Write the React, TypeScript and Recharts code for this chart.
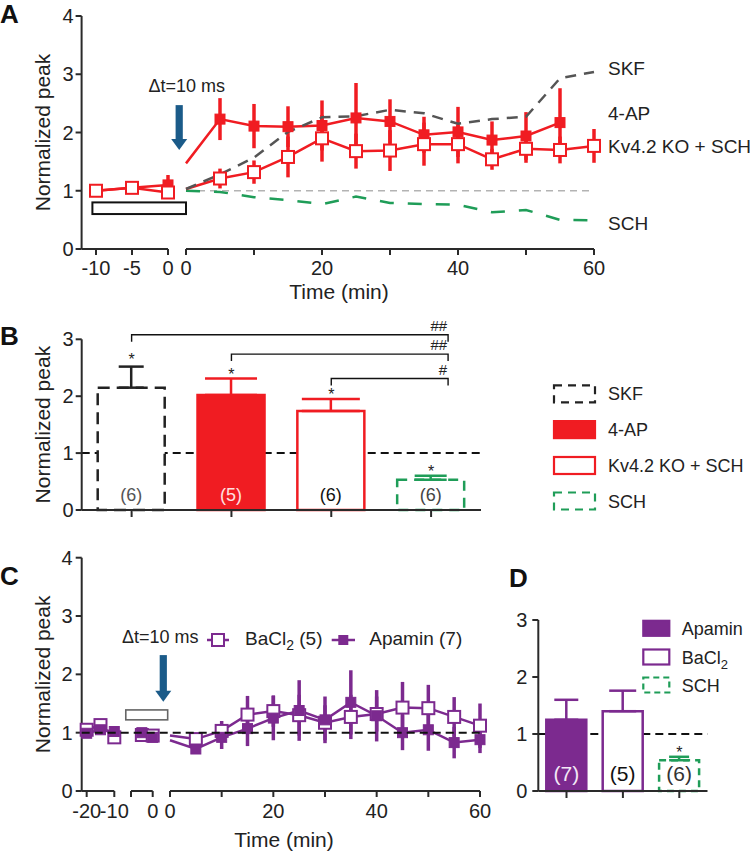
import {
  ComposedChart,
  BarChart,
  Bar,
  Line,
  XAxis,
  YAxis,
  ErrorBar,
  ReferenceLine,
  Cell,
  LabelList,
} from 'recharts';

const FONT = '"Liberation Sans", Arial, Helvetica, sans-serif';
const W = 750;
const H = 853;
const XH = 30; // x axis band height
const YW = 50; // y axis band width

const RED = '#f01c22';
const PURPLE = '#7c2a8f';
const GREEN = '#1f9d58';
const SKF_GREY = '#555555';
const BLUE = '#1b5b89';
const INK = '#222222';
const AXIS = { stroke: '#2a2a2a', strokeWidth: 2 };

// ---------- A: time course (normalized peak) ----------
const A_PRE_T = [-10, -5, 0];
const A_PRE_4AP = [1.0, 1.05, 1.1];
const A_PRE_4AP_SEM = [0.04, 0.05, 0.17];
const A_PRE_KO = [1.0, 1.05, 0.97];
const A_PRE_KO_SEM = [0.04, 0.05, 0.08];

const A_POST_T = [0, 5, 10, 15, 20, 25, 30, 35, 40, 45, 50, 55, 60];
const A_POST_4AP = [1.47, 2.23, 2.11, 2.1, 2.12, 2.25, 2.19, 1.96, 2.01, 1.87, 1.94, 2.17];
const A_POST_4AP_SEM = [0, 0.36, 0.38, 0.35, 0.43, 0.6, 0.38, 0.31, 0.43, 0.32, 0.41, 0.59];
const A_POST_KO = [1.03, 1.21, 1.32, 1.58, 1.9, 1.68, 1.69, 1.8, 1.8, 1.54, 1.72, 1.7, 1.77];
const A_POST_KO_SEM = [0, 0.17, 0.2, 0.35, 0.4, 0.3, 0.35, 0.37, 0.33, 0.18, 0.24, 0.23, 0.29];
const A_POST_SKF = [1.03, 1.28, 1.57, 2.01, 2.26, 2.28, 2.39, 2.33, 2.15, 2.23, 2.27, 2.93, 3.04];
const A_POST_SCH = [1.0, 0.98, 0.89, 0.84, 0.77, 0.9, 0.79, 0.77, 0.76, 0.63, 0.67, 0.5, 0.49];
const A_SERIES_NAMES = ['SKF', '4-AP', 'Kv4.2 KO + SCH', 'SCH'];

// ---------- B: summary bars ----------
const B_GROUPS = ['SKF', '4-AP', 'Kv4.2 KO + SCH', 'SCH'];
const B_MEAN = [2.15, 2.02, 1.74, 0.53];
const B_SEM = [0.37, 0.29, 0.21, 0.07];
const B_N = [6, 5, 6, 6];
const B_VS_SCH = ['##', '##', '#']; // SKF, 4-AP, KO each compared with SCH

// ---------- C: BaCl2 / apamin time course ----------
const C_PRE1_T = [-20, -15, -10];
const C_PRE2_T = [-5, 0];
const C_POST_T = [0, 5, 10, 15, 20, 25, 30, 35, 40, 45, 50, 55, 60];
const C_BACL2_PRE1 = [1.05, 1.13, 0.92];
const C_BACL2_PRE1_SEM = [0.05, 0.06, 0.07];
const C_APAMIN_PRE1 = [0.99, 1.05, 1.02];
const C_APAMIN_PRE1_SEM = [0.04, 0.05, 0.04];
const C_BACL2_PRE2 = [0.96, 0.95];
const C_BACL2_PRE2_SEM = [0.07, 0.06];
const C_APAMIN_PRE2 = [1.0, 0.92];
const C_APAMIN_PRE2_SEM = [0.06, 0.06];
const C_BACL2_POST = [0.95, 0.89, 1.03, 1.31, 1.37, 1.3, 1.17, 1.27, 1.32, 1.43, 1.42, 1.27, 1.12];
const C_BACL2_POST_SEM = [0, 0.1, 0.17, 0.32, 0.27, 0.35, 0.3, 0.38, 0.3, 0.44, 0.4, 0.34, 0.38];
const C_APAMIN_POST = [0.87, 0.72, 0.92, 1.07, 1.25, 1.38, 1.22, 1.52, 1.29, 1.0, 1.05, 0.83, 0.88];
const C_APAMIN_POST_SEM = [0, 0.07, 0.2, 0.3, 0.38, 0.52, 0.4, 0.55, 0.44, 0.3, 0.36, 0.27, 0.23];

// ---------- D: summary bars ----------
const D_GROUPS = ['Apamin', 'BaCl2', 'SCH'];
const D_MEAN = [1.25, 1.4, 0.54];
const D_SEM = [0.35, 0.36, 0.06];
const D_N = [7, 5, 6];

// bar styling (kept apart from the values)
const B_FILL = ['#ffffff', RED, '#ffffff', '#ffffff'];
const B_STROKE = ['#222222', RED, RED, GREEN];
const B_DASH = ['12 7', undefined, undefined, '10 7'];
const B_CAP = [12.5, 26, 29, 16];
const B_COUNT_FILL = ['#555555', '#ffe0e0', '#111111', '#444444'];
const D_FILL = [PURPLE, '#ffffff', '#ffffff'];
const D_STROKE = [PURPLE, PURPLE, GREEN];
const D_DASH = [undefined, undefined, '7 5'];
const D_CAP = [12, 13.5, 10];
const D_COUNT_FILL = ['#f3e8f6', '#111111', '#333333'];

// ---------- page frames (plot areas, in page pixels) ----------
const FA = { top: 16, bottom: 249 };
const A_PRE = { x0: 81.6, x1: 168, d: [-12, 0] };
const A_POST = { x0: 186, x1: 594, d: [0, 60] };
const FB = { x0: 81.7, x1: 481, top: 339.3, bottom: 510 };
const FC = { top: 557.7, bottom: 791 };
const C_SEG1 = { x0: 81.7, x1: 114.3, d: [-21.8, -10] };
const C_SEG2 = { x0: 131, x1: 152.7, d: [-10, 0] };
const C_POST = { x0: 170, x1: 480, d: [0, 60] };
const FD = { x0: 538.3, x1: 707.5, top: 620, bottom: 791 };

const lin = (d0: number, d1: number, r0: number, r1: number) => (v: number) =>
  r0 + ((v - d0) / (d1 - d0)) * (r1 - r0);

type Pt = { t: number; v: number; e?: number };
const points = (t: number[], v: number[], e?: number[]): Pt[] =>
  v.map((val, i) => ({ t: t[i], v: val, e: e ? e[i] : undefined }));

function squareDot(color: string, size: number, filled: boolean, skipFirst = false) {
  return (p: any) => {
    const { cx, cy, index } = p;
    if (cx == null || cy == null || (skipFirst && index === 0)) return <g key={`d${index}`} />;
    return (
      <rect
        key={`d${index}`}
        x={cx - size / 2}
        y={cy - size / 2}
        width={size}
        height={size}
        fill={filled ? color : '#ffffff'}
        stroke={color}
        strokeWidth={filled ? 1 : 2}
      />
    );
  };
}

interface SegmentProps {
  x0: number;
  x1: number;
  top: number;
  bottom: number;
  xDomain: number[];
  xTicks: number[];
  xLabel: (v: number) => string;
  showY: boolean;
  yTickMargin?: number;
  xTickMargin?: number;
  children: React.ReactNode;
}

function TimeSegment({ x0, x1, top, bottom, xDomain, xTicks, xLabel, showY, yTickMargin = 2, xTickMargin = 6, children }: SegmentProps) {
  return (
    <div style={{ position: 'absolute', left: 0, top: 0 }}>
      <ComposedChart
        width={W}
        height={H}
        margin={{ top, right: W - x1, bottom: H - bottom - XH, left: x0 - (showY ? YW : 0) }}
      >
        <XAxis
          type="number"
          dataKey="t"
          domain={xDomain}
          ticks={xTicks}
          interval={0}
          tickFormatter={xLabel}
          height={XH}
          tickSize={6}
          tickMargin={xTickMargin}
          axisLine={AXIS}
          tickLine={AXIS}
          tick={{ fontSize: 20, fill: INK }}
        />
        <YAxis
          type="number"
          domain={[0, 4]}
          ticks={[0, 1, 2, 3, 4]}
          interval={0}
          hide={!showY}
          width={showY ? YW : 0}
          tickSize={6}
          tickMargin={yTickMargin}
          axisLine={AXIS}
          tickLine={AXIS}
          tick={{ fontSize: 20, fill: INK }}
        />
        {children}
      </ComposedChart>
    </div>
  );
}

const every20 = (v: number) => (v % 20 === 0 ? String(v) : '');

function countLabel(colors: string[], fontSize: number, offset: number) {
  return (p: any) => {
    const vb = p.viewBox ?? p;
    const x = Number(vb.x);
    const y = Number(vb.y);
    const w = Number(vb.width);
    const h = Number(vb.height);
    if (p.value == null || !isFinite(x) || !isFinite(h)) return null;
    return (
      <text
        key={`n${p.index}`}
        x={x + w / 2}
        y={y + h - offset}
        textAnchor="middle"
        fontSize={fontSize}
        fill={colors[p.index] ?? INK}
      >
        {p.value}
      </text>
    );
  };
}

function PanelA() {
  return (
    <>
      <TimeSegment
        x0={A_PRE.x0}
        x1={A_PRE.x1}
        top={FA.top}
        bottom={FA.bottom}
        xDomain={A_PRE.d}
        xTicks={A_PRE_T}
        xLabel={(v) => String(v)}
        showY
        yTickMargin={2}
      >
        <Line data={points(A_PRE_T, A_PRE_4AP, A_PRE_4AP_SEM)} dataKey="v" stroke={RED} strokeWidth={2.5}
          dot={squareDot(RED, 10, true)} activeDot={false} isAnimationActive={false}>
          <ErrorBar dataKey="e" width={0} stroke={RED} strokeWidth={3.5} direction="y" isAnimationActive={false} />
        </Line>
        <Line data={points(A_PRE_T, A_PRE_KO, A_PRE_KO_SEM)} dataKey="v" stroke={RED} strokeWidth={2.5}
          dot={squareDot(RED, 12, false)} activeDot={false} isAnimationActive={false}>
          <ErrorBar dataKey="e" width={0} stroke={RED} strokeWidth={3.5} direction="y" isAnimationActive={false} />
        </Line>
      </TimeSegment>
      <TimeSegment
        x0={A_POST.x0}
        x1={A_POST.x1}
        top={FA.top}
        bottom={FA.bottom}
        xDomain={A_POST.d}
        xTicks={[0, 10, 20, 30, 40, 50, 60]}
        xLabel={every20}
        showY={false}
      >
        <ReferenceLine y={1} stroke="#b3b3b3" strokeWidth={1.6} strokeDasharray="7 5" />
        <Line data={points(A_POST_T, A_POST_SCH)} dataKey="v" stroke={GREEN} strokeWidth={2.5}
          strokeDasharray="14 14" dot={false} activeDot={false} isAnimationActive={false} />
        <Line data={points(A_POST_T, A_POST_4AP, A_POST_4AP_SEM)} dataKey="v" stroke={RED} strokeWidth={2.5}
          dot={squareDot(RED, 10, true, true)} activeDot={false} isAnimationActive={false}>
          <ErrorBar dataKey="e" width={0} stroke={RED} strokeWidth={3.5} direction="y" isAnimationActive={false} />
        </Line>
        <Line data={points(A_POST_T, A_POST_KO, A_POST_KO_SEM)} dataKey="v" stroke={RED} strokeWidth={2.5}
          dot={squareDot(RED, 12, false, true)} activeDot={false} isAnimationActive={false}>
          <ErrorBar dataKey="e" width={0} stroke={RED} strokeWidth={3.5} direction="y" isAnimationActive={false} />
        </Line>
        <Line data={points(A_POST_T, A_POST_SKF)} dataKey="v" stroke={SKF_GREY} strokeWidth={2.5}
          strokeDasharray="11 8" dot={false} activeDot={false} isAnimationActive={false} />
      </TimeSegment>
    </>
  );
}

function PanelC() {
  const series = (t: number[], bac: number[], bacE: number[], apa: number[], apaE: number[], skip: boolean) => [
    <Line key="bac" data={points(t, bac, bacE)} dataKey="v" stroke={PURPLE} strokeWidth={2.5}
      dot={squareDot(PURPLE, 12, false, skip)} activeDot={false} isAnimationActive={false}>
      <ErrorBar dataKey="e" width={0} stroke={PURPLE} strokeWidth={3.5} direction="y" isAnimationActive={false} />
    </Line>,
    <Line key="apa" data={points(t, apa, apaE)} dataKey="v" stroke={PURPLE} strokeWidth={2.5}
      dot={squareDot(PURPLE, 10, true, skip)} activeDot={false} isAnimationActive={false}>
      <ErrorBar dataKey="e" width={0} stroke={PURPLE} strokeWidth={3.5} direction="y" isAnimationActive={false} />
    </Line>,
  ];
  return (
    <>
      <TimeSegment x0={C_SEG1.x0} x1={C_SEG1.x1} top={FC.top} bottom={FC.bottom} xDomain={C_SEG1.d}
        xTicks={[-20, -10]} xLabel={(v) => String(v)} showY yTickMargin={3} xTickMargin={7}>
        {series(C_PRE1_T, C_BACL2_PRE1, C_BACL2_PRE1_SEM, C_APAMIN_PRE1, C_APAMIN_PRE1_SEM, false)}
      </TimeSegment>
      <TimeSegment x0={C_SEG2.x0} x1={C_SEG2.x1} top={FC.top} bottom={FC.bottom} xDomain={C_SEG2.d}
        xTicks={[-10, 0]} xLabel={(v) => (v === 0 ? '0' : '')} showY={false} xTickMargin={7}>
        {series(C_PRE2_T, C_BACL2_PRE2, C_BACL2_PRE2_SEM, C_APAMIN_PRE2, C_APAMIN_PRE2_SEM, false)}
      </TimeSegment>
      <TimeSegment x0={C_POST.x0} x1={C_POST.x1} top={FC.top} bottom={FC.bottom} xDomain={C_POST.d}
        xTicks={[0, 10, 20, 30, 40, 50, 60]} xLabel={every20} showY={false} xTickMargin={7}>
        {series(C_POST_T, C_BACL2_POST, C_BACL2_POST_SEM, C_APAMIN_POST, C_APAMIN_POST_SEM, true)}
      </TimeSegment>
    </>
  );
}

interface BarPanelProps {
  frame: { x0: number; x1: number; top: number; bottom: number };
  groups: string[];
  mean: number[];
  sem: number[];
  n: number[];
  fill: (string | undefined)[];
  stroke: string[];
  dash: (string | undefined)[];
  cap: number[];
  countFill: string[];
  barSize: number;
  countSize: number;
  countOffset: number;
  yTickMargin: number;
}

function BarPanel(p: BarPanelProps) {
  const rows = p.groups.map((name, i) => ({
    name,
    mean: p.mean[i],
    n: `(${p.n[i]})`,
    [`sem${i}`]: [0, p.sem[i]],
  }));
  const f = p.frame;
  return (
    <>
      {/* baseline reference (y = 1) sits underneath the bars */}
      <div style={{ position: 'absolute', left: 0, top: 0 }}>
        <BarChart
          width={W}
          height={H}
          data={rows}
          margin={{ top: f.top, right: W - f.x1, bottom: H - f.bottom - XH, left: f.x0 - YW }}
        >
          <XAxis dataKey="name" type="category" height={XH} axisLine={false} tickLine={false} tick={false} />
          <YAxis type="number" domain={[0, 3]} ticks={[0, 1, 2, 3]} width={YW} axisLine={false} tickLine={false} tick={false} />
          <ReferenceLine y={1} stroke="#111111" strokeWidth={2} strokeDasharray="8 5" />
          <Bar dataKey="mean" barSize={p.barSize} fill="none" stroke="none" isAnimationActive={false} />
        </BarChart>
      </div>
      <div style={{ position: 'absolute', left: 0, top: 0 }}>
        <BarChart
          width={W}
          height={H}
          data={rows}
          margin={{ top: f.top, right: W - f.x1, bottom: H - f.bottom - XH, left: f.x0 - YW }}
        >
          <XAxis dataKey="name" type="category" interval={0} tickFormatter={() => ''} height={XH}
            tickSize={7} axisLine={AXIS} tickLine={AXIS} />
          <YAxis type="number" domain={[0, 3]} ticks={[0, 1, 2, 3]} interval={0} width={YW} tickSize={6}
            tickMargin={p.yTickMargin} axisLine={AXIS} tickLine={AXIS} tick={{ fontSize: 20, fill: INK }} />
          <Bar dataKey="mean" barSize={p.barSize} isAnimationActive={false}>
            {rows.map((r, i) => (
              <Cell key={r.name} fill={p.fill[i]} stroke={p.stroke[i]} strokeWidth={2.5} strokeDasharray={p.dash[i]} />
            ))}
            {p.groups.map((g, i) => (
              <ErrorBar key={g} dataKey={`sem${i}`} width={p.cap[i]} stroke={p.stroke[i]} strokeWidth={2.5}
                direction="y" isAnimationActive={false} />
            ))}
            <LabelList dataKey="n" content={countLabel(p.countFill, p.countSize, p.countOffset)} />
          </Bar>
        </BarChart>
      </div>
    </>
  );
}

function Arrow({ x, yTail, yTip }: { x: number; yTail: number; yTip: number }) {
  const head = 11;
  return (
    <g fill={BLUE}>
      <rect x={x - 3.6} y={yTail} width={7.2} height={yTip - head - yTail + 1} />
      <polygon points={`${x - 8},${yTip - head} ${x + 8},${yTip - head} ${x},${yTip}`} />
    </g>
  );
}

function Swatch({ x, y, w, h, fill, stroke, dash }: { x: number; y: number; w: number; h: number; fill: string; stroke: string; dash?: string }) {
  return <rect x={x} y={y - h / 2} width={w} height={h} fill={fill} stroke={stroke} strokeWidth={2.2} strokeDasharray={dash} />;
}

function Overlay() {
  const yA = lin(0, 4, FA.bottom, FA.top);
  const preA = lin(A_PRE.d[0], A_PRE.d[1], A_PRE.x0, A_PRE.x1);
  const postA = lin(A_POST.d[0], A_POST.d[1], A_POST.x0, A_POST.x1);
  const yB = lin(0, 3, FB.bottom, FB.top);
  const bx = (i: number) => FB.x0 + ((i + 0.5) * (FB.x1 - FB.x0)) / B_GROUPS.length;
  const yC = lin(0, 4, FC.bottom, FC.top);
  const seg2C = lin(C_SEG2.d[0], C_SEG2.d[1], C_SEG2.x0, C_SEG2.x1);
  const postC = lin(C_POST.d[0], C_POST.d[1], C_POST.x0, C_POST.x1);
  const yD = lin(0, 3, FD.bottom, FD.top);
  const dx = (i: number) => FD.x0 + ((i + 0.5) * (FD.x1 - FD.x0)) / D_GROUPS.length;

  const aLabelY = [yA(3.1), yA(2.33), yA(1.77), yA(0.45)];
  const bracketV = [3.08, 2.74, 2.31];
  const bRight = bx(3) + 17;
  const bLegendY = [393.8, 429.6, 465.5, 501];
  const dLegendY = [628.3, 657, 685];

  const title = { fontSize: 21, fill: INK } as const;
  const letter = { fontSize: 26, fontWeight: 700, fill: '#111' } as const;

  return (
    <svg width={W} height={H} style={{ position: 'absolute', left: 0, top: 0 }} fontFamily={FONT}>
      {/* panel letters */}
      <text x={0} y={23} {...letter}>A</text>
      <text x={0} y={345} {...letter}>B</text>
      <text x={0} y={585} {...letter}>C</text>
      <text x={509} y={587} {...letter}>D</text>

      {/* axis titles */}
      <text transform={`translate(49.5,${(FA.top + FA.bottom) / 2}) rotate(-90)`} textAnchor="middle" {...title}>Normalized peak</text>
      <text transform={`translate(49.5,${(FB.top + FB.bottom) / 2}) rotate(-90)`} textAnchor="middle" {...title}>Normalized peak</text>
      <text transform={`translate(49.5,${(FC.top + FC.bottom) / 2}) rotate(-90)`} textAnchor="middle" {...title}>Normalized peak</text>
      <text x={339} y={298.5} textAnchor="middle" {...title}>Time (min)</text>
      <text x={284} y={846.5} textAnchor="middle" {...title}>Time (min)</text>

      {/* A annotations */}
      <rect x={preA(-10.5)} y={yA(0.8)} width={postA(0) - preA(-10.5)} height={yA(0.6) - yA(0.8)}
        fill="#fff" stroke="#111" strokeWidth={2} />
      <text x={186.7} y={91.7} textAnchor="middle" fontSize={18} fill={INK}>Δt=10 ms</text>
      <Arrow x={postA(-1)} yTail={yA(2.47)} yTip={yA(1.7)} />
      {A_SERIES_NAMES.map((s, i) => (
        <text key={s} x={608} y={aLabelY[i] + 7} fontSize={19} fill={INK}>{s}</text>
      ))}

      {/* B significance */}
      {B_VS_SCH.map((mark, i) => {
        const y = yB(bracketV[i]);
        return (
          <g key={i} stroke="#111" strokeWidth={1.4} fill="none">
            <polyline points={`${bx(i)},${y + 7} ${bx(i)},${y} ${bRight},${y} ${bRight},${y + 7}`} />
            <text x={bRight - 1} y={y - 4} textAnchor="end" fontSize={15} fill={INK} stroke="none">{mark}</text>
          </g>
        );
      })}
      {B_MEAN.map((m, i) => (
        <text key={i} x={bx(i)} y={yB(m + B_SEM[i]) + (i === 0 ? -2 : 1)} textAnchor="middle" fontSize={16} fill={INK}>*</text>
      ))}
      {/* B legend */}
      {B_GROUPS.map((g, i) => (
        <g key={g}>
          <Swatch x={554} y={bLegendY[i]} w={41} h={17} fill={B_FILL[i]} stroke={B_STROKE[i]}
            dash={B_DASH[i] ? '8 6' : undefined} />
          <text x={608} y={bLegendY[i] + 6.5} fontSize={18} fill={INK}>{g}</text>
        </g>
      ))}

      {/* C annotations */}
      <line x1={C_SEG1.x0} x2={C_POST.x1} y1={yC(1)} y2={yC(1)} stroke="#111" strokeWidth={2} strokeDasharray="8 5" />
      <rect x={seg2C(-12.4)} y={yC(1.39)} width={postC(-0.45) - seg2C(-12.4)} height={yC(1.22) - yC(1.39)}
        fill="#fff" stroke="#666" strokeWidth={1.6} />
      <Arrow x={postC(-1.3)} yTail={yC(2.33)} yTip={yC(1.53)} />
      <text x={160.3} y={643.3} textAnchor="middle" fontSize={18} fill={INK}>Δt=10 ms</text>
      <line x1={207} x2={229} y1={640} y2={640} stroke={PURPLE} strokeWidth={2.5} />
      <rect x={212} y={634} width={12} height={12} fill="#fff" stroke={PURPLE} strokeWidth={2} />
      <text x={245} y={645} fontSize={19} fill={INK}>
        BaCl<tspan fontSize={14} dy={5}>2</tspan><tspan dy={-5}> (5)</tspan>
      </text>
      <line x1={331.7} x2={355} y1={640} y2={640} stroke={PURPLE} strokeWidth={2.5} />
      <rect x={338.3} y={635} width={10} height={10} fill={PURPLE} />
      <text x={369.3} y={645} fontSize={19} fill={INK}>Apamin (7)</text>

      {/* D annotations */}
      <text x={dx(2)} y={yD(D_MEAN[2] + D_SEM[2]) + 1} textAnchor="middle" fontSize={16} fill={INK}>*</text>
      {D_GROUPS.map((g, i) => (
        <g key={g}>
          <Swatch x={643.3} y={dLegendY[i]} w={26} h={15} fill={D_FILL[i]} stroke={D_STROKE[i]} dash={D_DASH[i] ? '6 4' : undefined} />
          <text x={681.7} y={dLegendY[i] + 6.5} fontSize={18} fill={INK}>
            {g === 'BaCl2' ? (<>BaCl<tspan fontSize={13} dy={5}>2</tspan></>) : g}
          </text>
        </g>
      ))}
    </svg>
  );
}

export default function App() {
  return (
    <div
      style={{
        position: 'absolute',
        left: 0,
        top: 0,
        width: W,
        height: H,
        background: '#ffffff',
        fontFamily: FONT,
        overflow: 'hidden',
      }}
    >
      <PanelA />
      <BarPanel
        frame={FB}
        groups={B_GROUPS}
        mean={B_MEAN}
        sem={B_SEM}
        n={B_N}
        fill={B_FILL}
        stroke={B_STROKE}
        dash={B_DASH}
        cap={B_CAP}
        countFill={B_COUNT_FILL}
        barSize={67}
        countSize={18}
        countOffset={9.5}
        yTickMargin={2}
      />
      <PanelC />
      <BarPanel
        frame={FD}
        groups={D_GROUPS}
        mean={D_MEAN}
        sem={D_SEM}
        n={D_N}
        fill={D_FILL}
        stroke={D_STROKE}
        dash={D_DASH}
        cap={D_CAP}
        countFill={D_COUNT_FILL}
        barSize={40}
        countSize={21}
        countOffset={10.4}
        yTickMargin={5}
      />
      <Overlay />
    </div>
  );
}
